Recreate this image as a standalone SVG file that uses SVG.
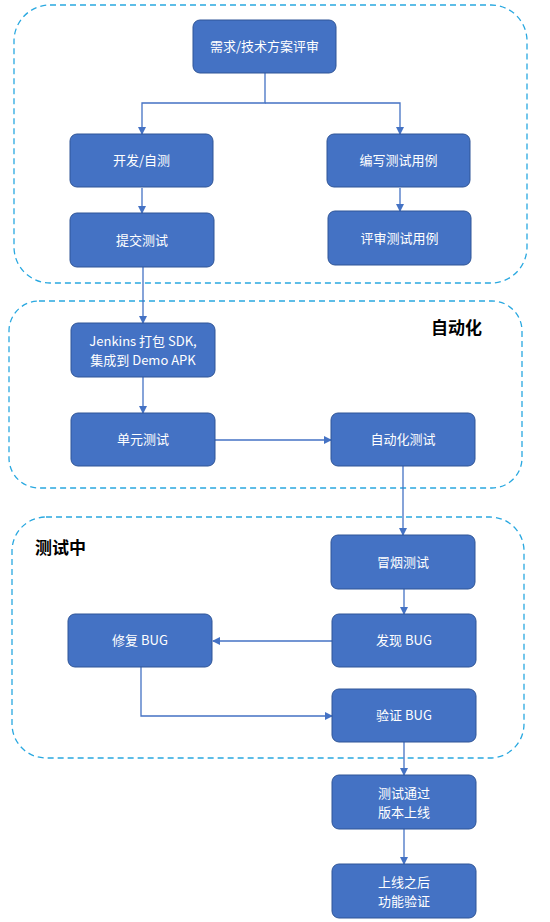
<svg xmlns="http://www.w3.org/2000/svg" width="550" height="922" viewBox="0 0 550 922">
<defs>
<style>
.grp{fill:none;stroke:#29A8E0;stroke-width:1.3;stroke-dasharray:6 4}
.box{fill:#4472C4;stroke:#2F5597;stroke-width:1}
.t{fill:#fff;font-family:"Noto Sans CJK SC","Noto Sans",sans-serif;font-size:13px;text-anchor:middle}
.lbl{fill:#000;font-family:"Noto Sans CJK SC","Noto Sans",sans-serif;font-size:17px;font-weight:bold}
.c{fill:none;stroke:#4472C4;stroke-width:1.3;marker-end:url(#ah)}
</style>
<marker id="ah" markerWidth="8" markerHeight="8" refX="7" refY="4" orient="auto" markerUnits="userSpaceOnUse">
<path d="M0,0 L8,4 L0,8 z" fill="#4472C4"/>
</marker>
</defs>
<rect width="550" height="922" fill="#fff"/>
<g id="groups">
<rect class="grp" x="14" y="5" width="513" height="278" rx="36"/>
<rect class="grp" x="9" y="301" width="513" height="187" rx="30"/>
<rect class="grp" x="12" y="517" width="512" height="241" rx="34"/>
<text class="lbl" x="431" y="334">自动化</text>
<text class="lbl" x="35" y="554">测试中</text>
</g>
<g id="connectors">
<path class="c" d="M265,73 V103 H142 V134"/>
<path class="c" d="M265,103 H400 V134"/>
<path class="c" d="M142,188 V213"/>
<path class="c" d="M400,188 V211"/>
<path class="c" d="M143,267 V323"/>
<path class="c" d="M143,377 V413"/>
<path class="c" d="M215,440 H331"/>
<path class="c" d="M403,466 V535"/>
<path class="c" d="M404,589 V614"/>
<path class="c" d="M332,641 H213"/>
<path class="c" d="M141,667 V716 H332"/>
<path class="c" d="M404,742 V775"/>
<path class="c" d="M404,829 V864"/>
</g>
<g id="n1"><rect class="box" x="193" y="20" width="143" height="53" rx="7"/><text class="t" x="264.5" y="51">需求/技术方案评审</text></g>
<g id="n2"><rect class="box" x="70" y="134" width="143" height="53" rx="7"/><text class="t" x="141.5" y="165">开发/自测</text></g>
<g id="n3"><rect class="box" x="327" y="134" width="143" height="53" rx="7"/><text class="t" x="398.5" y="165">编写测试用例</text></g>
<g id="n4"><rect class="box" x="70" y="213" width="144" height="54" rx="7"/><text class="t" x="142" y="245">提交测试</text></g>
<g id="n5"><rect class="box" x="328" y="211" width="143" height="54" rx="7"/><text class="t" x="399.5" y="243">评审测试用例</text></g>
<g id="n6"><rect class="box" x="71" y="323" width="144" height="54" rx="7"/><text class="t" x="143" y="346">Jenkins 打包 SDK,</text><text class="t" x="143" y="365">集成到 Demo APK</text></g>
<g id="n7"><rect class="box" x="71" y="413" width="144" height="53" rx="7"/><text class="t" x="143" y="444">单元测试</text></g>
<g id="n8"><rect class="box" x="331" y="413" width="144" height="53" rx="7"/><text class="t" x="403" y="444">自动化测试</text></g>
<g id="n9"><rect class="box" x="331" y="535" width="144" height="54" rx="7"/><text class="t" x="403" y="567">冒烟测试</text></g>
<g id="n10"><rect class="box" x="332" y="614" width="144" height="53" rx="7"/><text class="t" x="404" y="645">发现 BUG</text></g>
<g id="n11"><rect class="box" x="68" y="614" width="144" height="53" rx="7"/><text class="t" x="140" y="645">修复 BUG</text></g>
<g id="n12"><rect class="box" x="332" y="689" width="144" height="53" rx="7"/><text class="t" x="404" y="720">验证 BUG</text></g>
<g id="n13"><rect class="box" x="332" y="775" width="144" height="54" rx="7"/><text class="t" x="404" y="798">测试通过</text><text class="t" x="404" y="817">版本上线</text></g>
<g id="n14"><rect class="box" x="332" y="864" width="144" height="54" rx="7"/><text class="t" x="404" y="887">上线之后</text><text class="t" x="404" y="906">功能验证</text></g>
</svg>
